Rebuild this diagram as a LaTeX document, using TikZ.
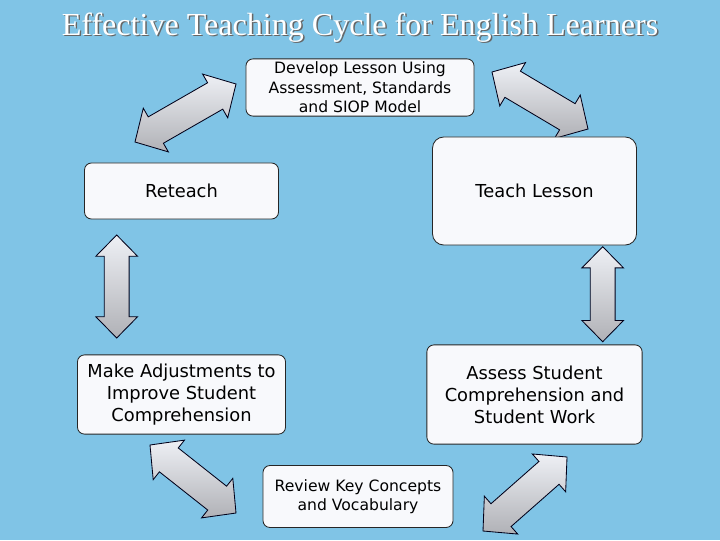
\documentclass[tikz,border=0pt]{standalone}
\usepackage{fontspec}
\setmainfont{DejaVu Sans}
\newfontfamily\titlefont{Liberation Serif}
\usetikzlibrary{calc}

\definecolor{skyback}{RGB}{128,196,230}
\definecolor{boxfill}{RGB}{248,249,252}
\definecolor{arrowtop}{RGB}{238,240,245}
\definecolor{arrowbot}{RGB}{176,177,182}

% double block arrow: #1 and #2 tips, #3 head length, #4 head half width, #5 shaft half width
\newcommand{\dblarrow}[5]{%
  \coordinate (#1h) at ($(#1)!#3!(#2)$);
  \coordinate (#2h) at ($(#2)!#3!(#1)$);
  \path[blockarrow] (#1) -- ($(#1h)!#4!90:(#2)$) -- ($(#1h)!#5!90:(#2)$)
    -- ($(#2h)!#5!-90:(#1)$) -- ($(#2h)!#4!-90:(#1)$) -- (#2)
    -- ($(#2h)!#4!90:(#1)$) -- ($(#2h)!#5!90:(#1)$)
    -- ($(#1h)!#5!-90:(#2)$) -- ($(#1h)!#4!-90:(#2)$) -- cycle;
}

\tikzset{
  stagebox/.style={draw=black!85, line width=0.6pt, fill=boxfill, rounded corners=5pt,
    align=center, inner sep=0pt},
  smalltext/.style={font=\fontsize{11.1}{13.8}\selectfont},
  bigtext/.style={font=\fontsize{12.7}{15.6}\selectfont},
  blockarrow/.style={draw=black!90!blue, line width=0.6pt, top color=arrowtop,
    bottom color=arrowbot, line join=miter},
  titletext/.style={anchor=base, font=\titlefont\fontsize{22.8}{26}\selectfont},
}

\begin{document}
\begin{tikzpicture}[x=0.025cm, y=-0.025cm]
  \fill[skyback] (0,0) rectangle (720,540);
  \useasboundingbox (0,0) rectangle (720,540);

  % title
  \node[titletext, text=black!60] (titleshadow) at (361.5,36.5)
    {Effective Teaching Cycle for English Learners};
  \node[titletext, text=white] (title) at (360,35)
    {Effective Teaching Cycle for English Learners};

  % arrow tips
  \coordinate (ulA) at (135,142);
  \coordinate (ulB) at (236,84);
  \coordinate (urA) at (492,72);
  \coordinate (urB) at (588,129);
  \coordinate (lvA) at (116.7,235);
  \coordinate (lvB) at (116.7,338);
  \coordinate (rvA) at (602.7,246.7);
  \coordinate (rvB) at (602.7,341.7);
  \coordinate (llA) at (150,445);
  \coordinate (llB) at (236,513);
  \coordinate (lrA) at (483,531);
  \coordinate (lrB) at (567,457);

  \dblarrow{ulA}{ulB}{0.6cm}{0.63cm}{0.38cm}
  \dblarrow{urA}{urB}{0.6cm}{0.63cm}{0.38cm}
  \dblarrow{lvA}{lvB}{0.53cm}{0.52cm}{0.31cm}
  \dblarrow{rvA}{rvB}{0.53cm}{0.52cm}{0.31cm}
  \dblarrow{llA}{llB}{0.6cm}{0.63cm}{0.38cm}
  \dblarrow{lrA}{lrB}{0.6cm}{0.63cm}{0.38cm}

  % stages
  \node[stagebox, smalltext, minimum width=5.7cm, minimum height=1.43cm] (develop) at (360,87.5)
    {Develop Lesson Using\\Assessment, Standards\\and SIOP Model};
  \node[stagebox, bigtext, minimum width=4.85cm, minimum height=1.4cm] (reteach) at (181.5,191)
    {Reteach};
  \node[stagebox, bigtext, rounded corners=8pt, minimum width=5.1cm, minimum height=2.7cm] (teach) at (534.5,191)
    {Teach Lesson};
  \node[stagebox, bigtext, minimum width=5.2cm, minimum height=1.98cm] (adjust) at (181.5,394.5)
    {Make Adjustments to\\Improve Student\\Comprehension};
  \node[stagebox, bigtext, minimum width=5.38cm, minimum height=2.48cm] (assess) at (534.5,394.5)
    {Assess Student\\Comprehension and\\Student Work};
  \node[stagebox, smalltext, minimum width=4.75cm, minimum height=1.55cm] (review) at (358,496.5)
    {Review Key Concepts\\and Vocabulary};
\end{tikzpicture}
\end{document}
